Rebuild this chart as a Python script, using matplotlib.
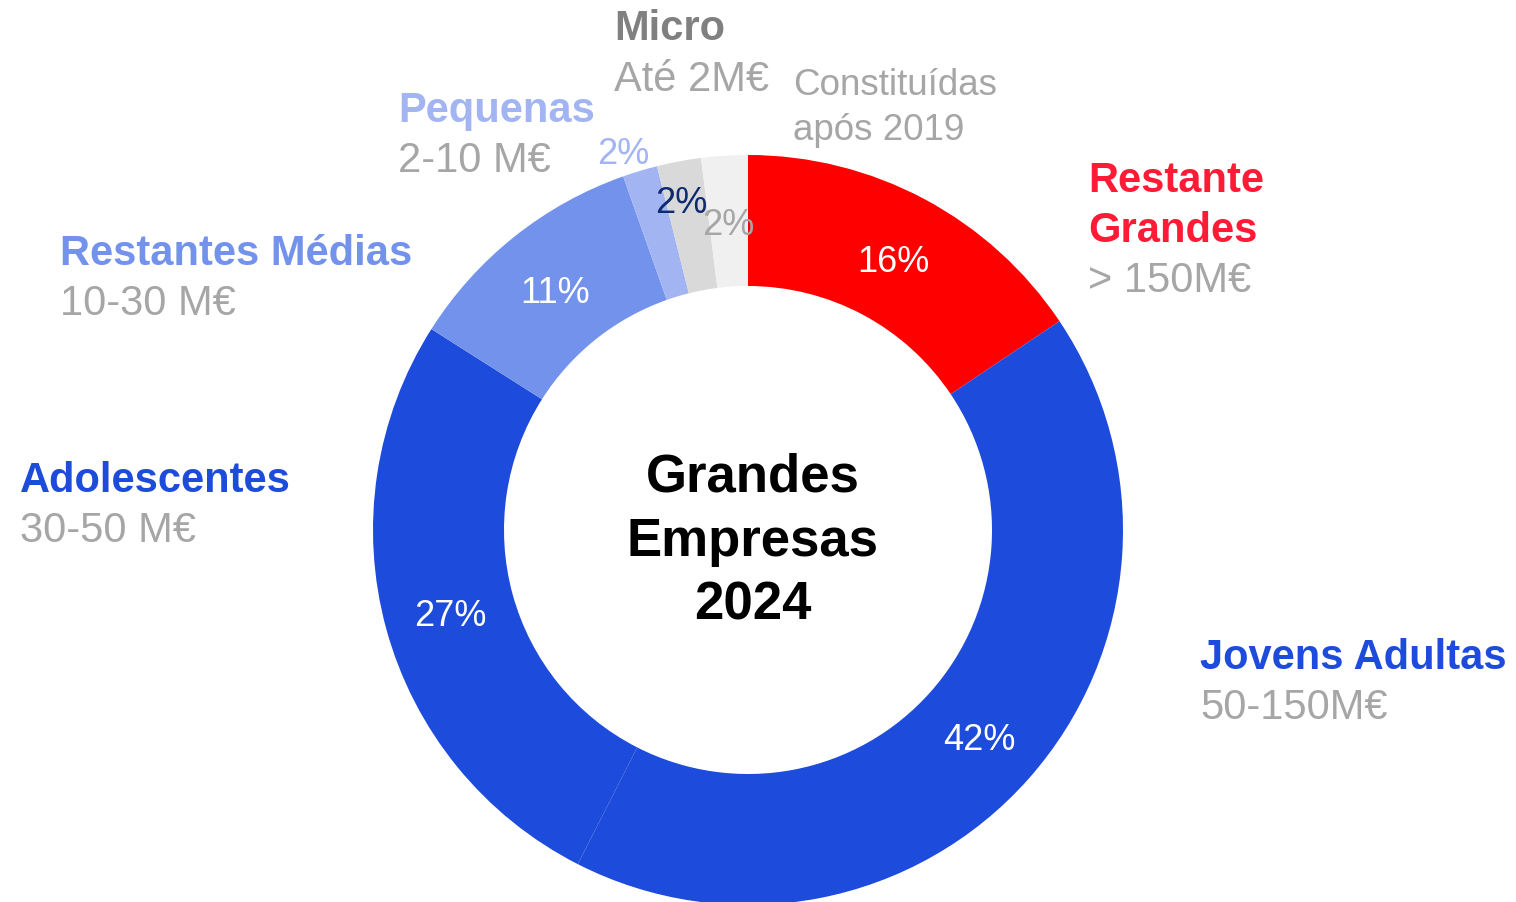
import matplotlib
matplotlib.use("Agg")
import matplotlib.pyplot as plt
import numpy as np

plt.rcParams["font.family"] = ["Liberation Sans", "DejaVu Sans"]

# data (clockwise from 12 o'clock)
categories = ["Restante Grandes", "Jovens Adultas", "Adolescentes", "Restantes Médias",
              "Pequenas", "Micro", "Constituídas após 2019"]
shares = [15.6, 41.9, 26.5, 10.6, 1.5, 1.9, 2.0]
pct_labels = ["16%", "42%", "27%", "11%", "2%", "2%", "2%"]
title_lines = [["Restante", "Grandes"], ["Jovens Adultas"], ["Adolescentes"],
               ["Restantes Médias"], ["Pequenas"], ["Micro"], []]
range_lines = [["> 150M€"], ["50-150M€"], ["30-50 M€"], ["10-30 M€"],
               ["2-10 M€"], ["Até 2M€"], ["Constituídas", "após 2019"]]
center_lines = ["Grandes", "Empresas", "2024"]

# styling
W, H = 1516, 903
CX, CY = 748, 531          # pixel coords (y down)
R_OUT, R_IN = 375, 244
wedge_colors = ["#FF0000", "#1D4BDB", "#1D4BDB", "#7392EC", "#A2B5F2", "#D9D9D9", "#F0F0F0"]
title_colors = ["#FF1A35", "#1D4BDB", "#1D4BDB", "#7392EC", "#A2B5F2", "#808080", None]
GRAY = "#A6A6A6"
pct_colors = ["white", "white", "white", "white", "#A2B5F2", "#0D2B6E", GRAY]
pct_radius = [309, 309, 309, 309, 400, 338, 310]
pct_turn = [0, 0, 0, 0, 1.4, 0.7, 0]   # extra degrees counter-clockwise
# label anchor: left x and first-line baseline (pixels)
label_pos = [(1088, 192), (1200, 669), (20, 492), (60, 265), (398, 122), (614, 40), (793, 95)]
title_size = [30, 30, 30, 30, 30, 30, 30]
range_size = [30, 30, 30, 30, 30, 30, 26.5]
range_step = [50, 50, 50, 50, 50, 51, 45]

fig = plt.figure(figsize=(W / 100, H / 100), dpi=100)
ax = fig.add_axes([0, 0, 1, 1])


def py(y):
    return H - y


wedges, _ = ax.pie(shares, colors=wedge_colors, startangle=90, counterclock=False,
                   center=(CX, py(CY)), radius=R_OUT, frame=True,
                   wedgeprops=dict(width=R_OUT - R_IN, linewidth=0))
ax.set_xlim(0, W)
ax.set_ylim(0, H)
ax.set_aspect("equal")
ax.axis("off")

# percentage labels
for w, lab, col, r, t in zip(wedges, pct_labels, pct_colors, pct_radius, pct_turn):
    ang = np.deg2rad((w.theta1 + w.theta2) / 2 + t)
    ax.text(CX + r * np.cos(ang), py(CY) + r * np.sin(ang), lab, color=col,
            fontsize=26, ha="center", va="center_baseline")

# category labels
for i in range(len(categories)):
    x0, y0 = label_pos[i]
    y = y0
    for line in title_lines[i]:
        ax.text(x0, py(y), line, color=title_colors[i], fontsize=title_size[i],
                fontweight="bold", ha="left", va="baseline")
        y += 50
    if title_lines[i]:
        y = y - 50 + range_step[i]
    for line in range_lines[i]:
        ax.text(x0, py(y), line, color=GRAY, fontsize=range_size[i],
                ha="left", va="baseline")
        y += range_step[i]

# centre title
for k, line in enumerate(center_lines):
    ax.text(753, py(492 + 64 * k), line, color="black", fontsize=38,
            fontweight="bold", ha="center", va="baseline")

fig.savefig("out.png", dpi=100)
